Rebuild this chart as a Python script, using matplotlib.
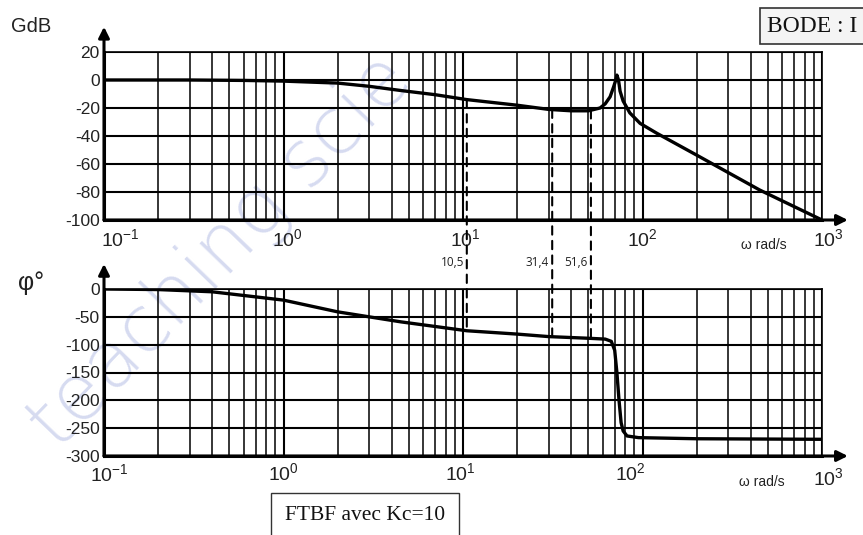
import numpy as np
import matplotlib
matplotlib.use("Agg")
import matplotlib.pyplot as plt
from matplotlib.patches import ConnectionPatch
from matplotlib.ticker import NullFormatter, LogLocator
import matplotlib.transforms as mtransforms

plt.rcParams['font.family'] = ['Liberation Sans', 'DejaVu Sans']
plt.rcParams['mathtext.fontset'] = 'custom'
plt.rcParams['mathtext.rm'] = 'Liberation Sans'
plt.rcParams['mathtext.it'] = 'Liberation Sans'

# ---- data ----
omega_gain = [0.1, 0.3, 0.6, 1.0, 2.0, 3.0, 4.5, 7.0, 10.5, 20, 30, 40, 50, 58,
              62, 66, 69, 71, 72, 73.5, 75, 78, 85, 97, 120, 200, 450, 1000]
gain_db = [0, 0, -0.3, -0.8, -2.2, -4.5, -7.5, -10.5, -14, -18, -21, -22, -22, -20,
           -17, -12, -5, 0, 3.5, 0, -8, -15, -23.5, -31, -38, -53.6, -78.6, -100]

omega_phase = [0.1, 0.2, 0.4, 1.0, 2.0, 4.5, 10.5, 20, 30, 50, 62, 67, 70, 72,
               74, 76, 78, 82, 95, 200, 1000]
phase_deg = [0, -1, -5, -20, -41, -59, -75, -81, -85.5, -88.5, -90, -94, -110, -150,
             -200, -240, -255, -264, -267, -269, -270]

marked_omega = [10.5, 31.4, 51.6]
marked_labels = ["10,5", "31,4", "51,6"]

gain_ticks = [20, 0, -20, -40, -60, -80, -100]
phase_ticks = [0, -50, -100, -150, -200, -250, -300]
decade_ticks = [0.1, 1, 10, 100, 1000]
decade_labels = [r"$10^{-1}$", r"$10^{0}$", r"$10^{1}$", r"$10^{2}$", r"$10^{3}$"]

W, H = 863, 535
fig = plt.figure(figsize=(W / 100, H / 100), dpi=100)
fig.patch.set_facecolor('white')

# faint watermark (behind everything)
fig.text(58 / W, (H - 452) / H, "teaching scie", fontsize=56, color='#c9cfec', alpha=0.75,
         rotation=46, rotation_mode='anchor', ha='left', va='baseline', zorder=-5,
         family=['DejaVu Sans'], fontweight='light')

def px_axes(left, top, right, bottom):
    return fig.add_axes([left / W, (H - bottom) / H, (right - left) / W, (bottom - top) / H])

ax1 = px_axes(104, 52, 822, 220)
ax2 = px_axes(104, 289, 822, 456)

def style(ax, ylim, yticks):
    ax.patch.set_alpha(0)
    ax.set_xscale('log')
    ax.set_xlim(0.1, 1000)
    ax.set_ylim(*ylim)
    ax.set_yticks(yticks)
    ax.set_yticklabels([str(t) for t in yticks], fontsize=12.5, color='#222222')
    ax.set_xticks(decade_ticks)
    ax.xaxis.set_minor_locator(LogLocator(base=10, subs=np.arange(2, 10), numticks=20))
    ax.xaxis.set_minor_formatter(NullFormatter())
    ax.set_xticklabels([])
    ax.tick_params(which='both', length=0, pad=3)
    ax.grid(which='major', axis='x', color='black', lw=1.5)
    ax.grid(which='minor', axis='x', color='black', lw=1.1)
    ax.grid(which='major', axis='y', color='black', lw=1.5)
    for s in ['top', 'right']:
        ax.spines[s].set_linewidth(1.2)
    for s in ['left', 'bottom']:
        ax.spines[s].set_linewidth(2.2)
    ax.set_axisbelow(True)
    ax.annotate('', xy=(0, 1.15), xytext=(0, 0), xycoords='axes fraction',
                arrowprops=dict(arrowstyle='-|>', color='black', lw=2.2,
                                mutation_scale=16, shrinkA=0, shrinkB=0),
                annotation_clip=False)
    ax.annotate('', xy=(1.036, 0), xytext=(0, 0), xycoords='axes fraction',
                arrowprops=dict(arrowstyle='-|>', color='black', lw=2.2,
                                mutation_scale=16, shrinkA=0, shrinkB=0),
                annotation_clip=False)

style(ax1, (-100, 20), gain_ticks)
style(ax2, (-300, 0), phase_ticks)

ax1.plot(omega_gain, gain_db, color='black', lw=2.4, solid_joinstyle='round', zorder=5)
ax2.plot(omega_phase, phase_deg, color='black', lw=2.4, solid_joinstyle='round', zorder=5)

def decade_text(ax, ypix, offsets, yoffs):
    tr = mtransforms.blended_transform_factory(ax.transData, fig.transFigure)
    for x, lab, dx, dy in zip(decade_ticks, decade_labels, offsets, yoffs):
        t = ax.text(x, (H - ypix - dy) / H, lab, transform=tr, ha='center', va='center',
                    fontsize=14, color='#222222')
        t.set_transform(tr + mtransforms.ScaledTranslation(dx / 100, 0, fig.dpi_scale_trans))

decade_text(ax1, 239, [16, 4, 2, 0, 6], [0, 0, 0, 0, 0])
decade_text(ax2, 473, [5, 0, -3, -12, 6], [1, 0, 0, 0, 5])

fig.text(764 / W, (H - 245) / H, "ω rad/s", fontsize=10, color='#222222', va='center', ha='center')
fig.text(762 / W, (H - 482) / H, "ω rad/s", fontsize=10, color='#222222', va='center', ha='center')

fig.text(11 / W, (H - 27) / H, "GdB", fontsize=14.5, color='#222222', va='center', ha='left')
fig.text(18 / W, (H - 283) / H, "φ°", fontsize=18, color='#222222', va='center', ha='left')

lg = np.log10(omega_gain)
lp = np.log10(omega_phase)
trlab = mtransforms.blended_transform_factory(ax1.transData, fig.transFigure)
for w, lab in zip(marked_omega, marked_labels):
    g = np.interp(np.log10(w), lg, gain_db)
    p = np.interp(np.log10(w), lp, phase_deg)
    con = ConnectionPatch(xyA=(w, g), coordsA=ax1.transData, xyB=(w, p), coordsB=ax2.transData,
                          color='black', lw=1.5, linestyle=(0, (4, 3)), zorder=6)
    fig.add_artist(con)
    t = ax1.text(w, (H - 262) / H, lab, transform=trlab, ha='right', va='center',
                 fontsize=8.5, color='#222222', family=['Open Sans', 'DejaVu Sans'])
    t.set_transform(trlab + mtransforms.ScaledTranslation(-3 / 100, 0, fig.dpi_scale_trans))

fig.text(767 / W, (H - 26) / H, "BODE : I", fontsize=17, family=['Liberation Serif'],
         color='#111111', va='center', ha='left',
         bbox=dict(boxstyle='square,pad=0.3', facecolor='#f4f4f4', edgecolor='#333333', lw=1.2))
fig.text(365 / W, (H - 516) / H, "FTBF avec Kc=10", fontsize=15.5, family=['Liberation Serif'],
         color='#111111', va='center', ha='center',
         bbox=dict(boxstyle='square,pad=0.65', facecolor='white', edgecolor='#333333', lw=1.0))

fig.savefig('out.png', dpi=100, facecolor='white')
